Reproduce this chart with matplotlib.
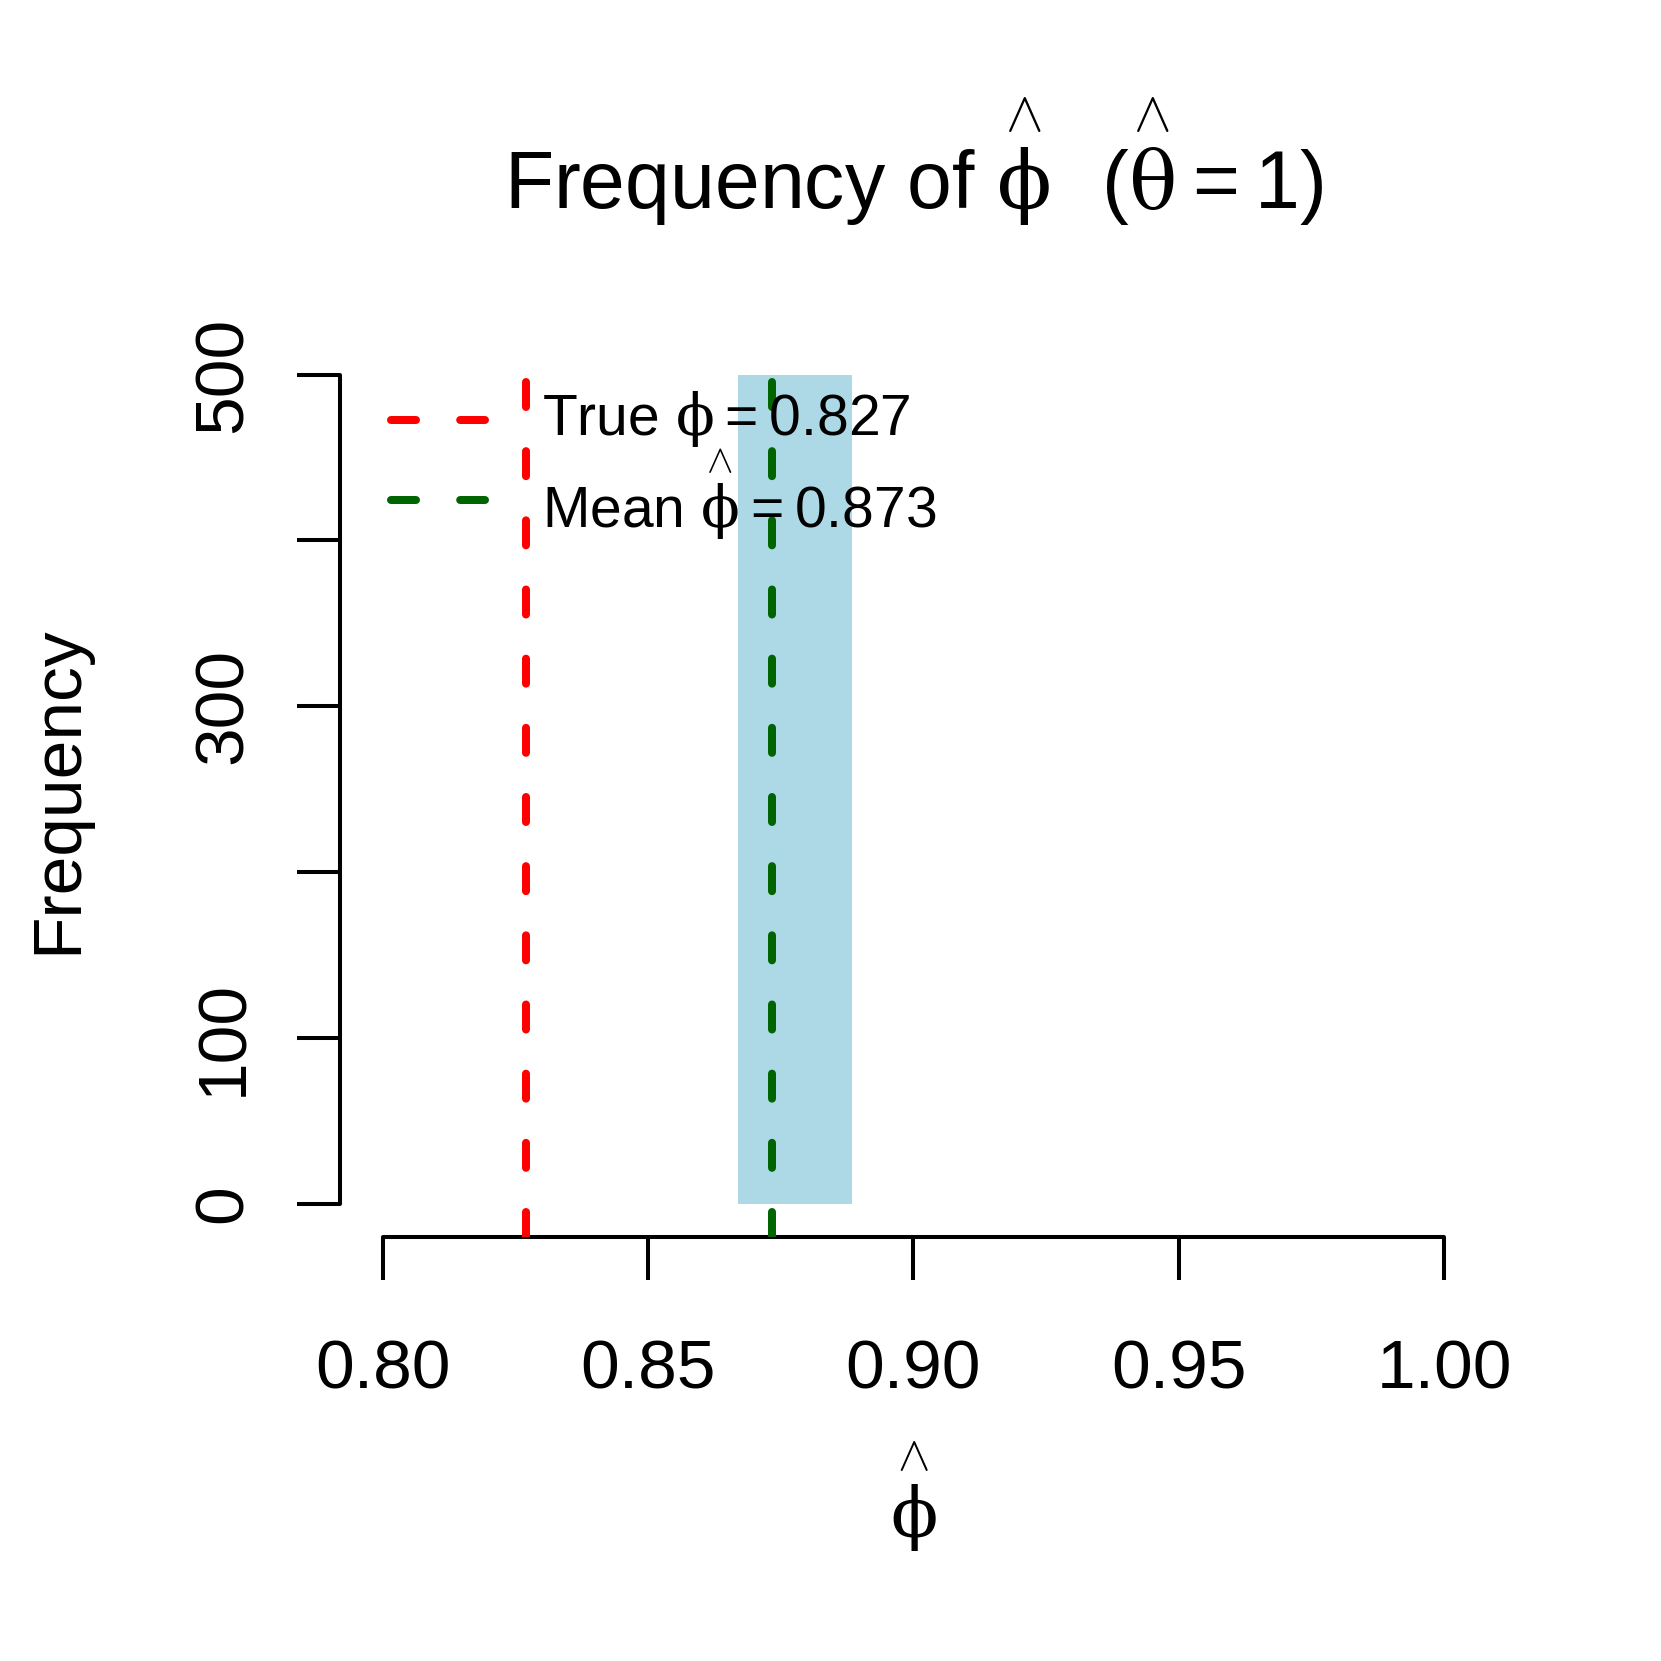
import matplotlib
matplotlib.use("Agg")
import matplotlib.pyplot as plt

plt.rcParams['font.family'] = ['Liberation Sans', 'DejaVu Sans']
plt.rcParams['mathtext.fontset'] = 'custom'
plt.rcParams['mathtext.rm'] = 'Liberation Sans'
plt.rcParams['mathtext.it'] = 'DejaVu Serif'
plt.rcParams['mathtext.bf'] = 'Liberation Sans:bold'
plt.rcParams['lines.scale_dashes'] = False

# ---- data ----
bin_left = [0.867]
bin_right = [0.8885]
counts = [500]
true_phi = 0.827
mean_phi = 0.8734
x_ticks = [0.80, 0.85, 0.90, 0.95, 1.00]
x_tick_labels = ["0.80", "0.85", "0.90", "0.95", "1.00"]
y_ticks = [0, 100, 200, 300, 400, 500]
y_tick_labels = ["0", "100", "", "300", "", "500"]

W = 1661.0
fig = plt.figure(figsize=(W / 100, W / 100), dpi=100)
ax = fig.add_axes([340.2 / W, 1 - 1236.9 / W, 1146.3 / W, 895.4 / W])
ax.set_xlim(0.792, 1.008)
ax.set_ylim(-20, 520)

widths = [r - l for l, r in zip(bin_left, bin_right)]
ax.bar(bin_left, counts, width=widths, align='edge', color='#ADD8E6',
       edgecolor='none', zorder=1)

dash = (0, (18.0, 31.8))
lw = 5.76
l1 = ax.axvline(true_phi, color='#FF0000', lw=lw, linestyle=dash,
                dash_capstyle='round', zorder=3)
l2 = ax.axvline(mean_phi, color='#006400', lw=lw, linestyle=dash,
                dash_capstyle='round', zorder=3)

# spines
for s in ['top', 'right']:
    ax.spines[s].set_visible(False)
ax.spines['left'].set_bounds(0, 500)
ax.spines['bottom'].set_bounds(0.80, 1.00)
for s in ['left', 'bottom']:
    ax.spines[s].set_linewidth(2.9)
    ax.spines[s].set_capstyle('round')

ax.set_xticks(x_ticks)
ax.set_xticklabels(x_tick_labels)
ax.set_yticks(y_ticks)
ax.set_yticklabels(y_tick_labels)
ax.tick_params(axis='both', direction='out', length=31, width=2.9,
               labelsize=50)
ax.tick_params(axis='x', pad=78)
ax.tick_params(axis='y', pad=39.6)
for t in ax.xaxis.get_major_ticks():
    t.label1.set_va('baseline')
for t in ax.yaxis.get_major_ticks():
    t.label1.set_rotation(90)
    t.label1.set_rotation_mode('anchor')
    t.label1.set_ha('center')
    t.label1.set_va('baseline')

HAT_PHI = r'\overset{\wedge}{\phi}'
HAT_THETA = r'\overset{\wedge}{\theta}'

# title
ax.text(0.5, (1236.9 - 209.3) / 895.4,
        r'Frequency of $' + HAT_PHI + r'\ \ (' + HAT_THETA + r' = 1)$',
        transform=ax.transAxes, ha='center', va='baseline', fontsize=58)
# axis labels
ax.text(0.5, (1236.9 - 1538) / 895.4, '$' + HAT_PHI + '$',
        transform=ax.transAxes, ha='center', va='baseline', fontsize=50)
ax.text((76 - 340.2) / 1146.3, 0.5, 'Frequency', rotation=90,
        rotation_mode='anchor', transform=ax.transAxes,
        ha='center', va='baseline', fontsize=50)

# legend (no box)
def px_to_ax(px, py):
    return (px - 340.2) / 1146.3, (1236.9 - py) / 895.4

leg_rows = [
    (l1, 420.3, 435.0, rf'True $\phi = {true_phi:.3f}$'),
    (l2, 500.0, 528.3, r'Mean $' + HAT_PHI + rf' = {mean_phi:.3f}$'),
]
for line, ly, ty, label in leg_rows:
    xa0, ya = px_to_ax(390.7, ly)
    xa1, _ = px_to_ax(484.7, ly)
    ax.plot([xa0, xa1], [ya, ya], transform=ax.transAxes,
            color=line.get_color(), lw=lw, linestyle=dash,
            dash_capstyle='round', clip_on=False, zorder=4)
    xt, yt = px_to_ax(541.7, ty)
    ax.text(xt, yt, label, transform=ax.transAxes, ha='left',
            va='baseline', fontsize=41, zorder=5)

fig.savefig('out.png', dpi=100, facecolor='white')
